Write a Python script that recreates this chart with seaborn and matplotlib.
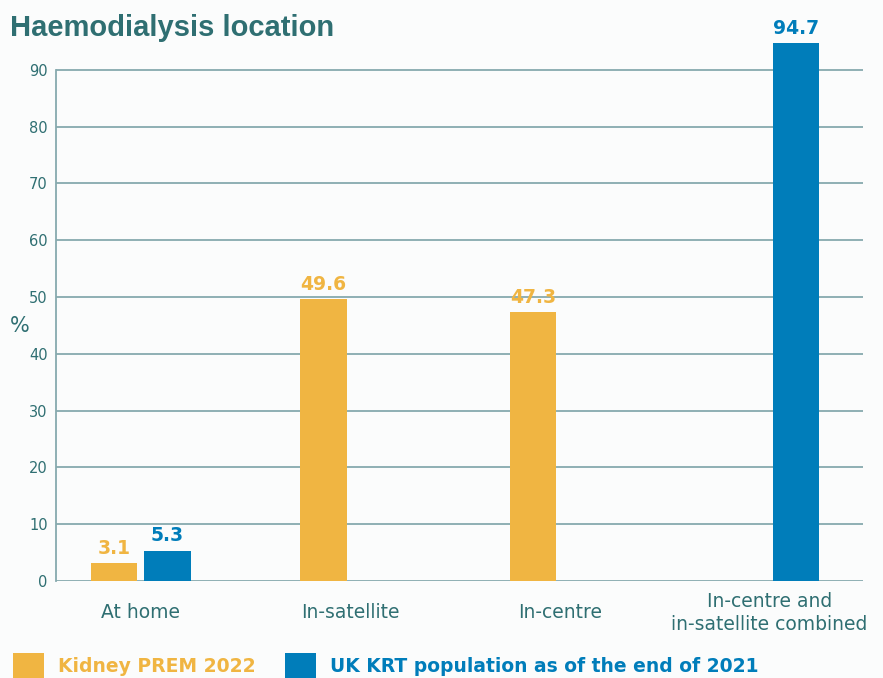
import matplotlib
matplotlib.use("Agg")
import matplotlib.pyplot as plt
import matplotlib.patches as mpatches
import seaborn as sns
import pandas as pd
import numpy as np

# Data
locations = ["At home", "In-satellite", "In-centre", "In-centre and\nin-satellite combined"]
series = ["Kidney PREM 2022", "UK KRT population as of the end of 2021"]
prem_values = [3.1, 49.6, 47.3, np.nan]
krt_values = [5.3, np.nan, np.nan, 94.7]
y_ticks = [0, 10, 20, 30, 40, 50, 60, 70, 80, 90]

ORANGE = "#F0B542"
BLUE = "#007DBA"
TEAL = "#2F6F72"
GRID = "#86AAAE"
BG = "#FBFCFC"

df = pd.DataFrame({
    "location": locations * 2,
    "source": [series[0]] * 4 + [series[1]] * 4,
    "value": prem_values + krt_values,
})

sns.set_theme(style="white")
plt.rcParams["font.family"] = ["DejaVu Sans"]

fig = plt.figure(figsize=(8.83, 6.78), dpi=100, facecolor=BG)
ax = fig.add_axes([0.0634, 0.1431, 0.9139, 0.8377])
ax.set_facecolor(BG)

sns.barplot(data=df, x="location", y="value", hue="source", order=locations,
            hue_order=series, palette=[ORANGE, BLUE], width=0.51, gap=0.13,
            dodge=True, saturation=1, legend=False, linewidth=0, ax=ax, zorder=3)

# Value labels above each bar
for container, color in zip(ax.containers, [ORANGE, BLUE]):
    labels = [f"{v:.1f}" if not np.isnan(v) else "" for v in container.datavalues]
    ax.bar_label(container, labels=labels, padding=4, color=color,
                 fontsize=13.5, fontweight="bold")

ax.set_xlim(-0.404, 3.447)
ax.set_ylim(0, 100)
ax.set_yticks(y_ticks)
ax.yaxis.grid(True, color=GRID, linewidth=1.3, zorder=0)
ax.set_axisbelow(True)
for side in ["top", "right", "bottom"]:
    ax.spines[side].set_visible(False)
ax.spines["left"].set_color(GRID)
ax.spines["left"].set_linewidth(1.3)
ax.spines["left"].set_bounds(0, 90)
ax.tick_params(axis="y", length=0, pad=6, labelcolor=TEAL, labelsize=10.5)
ax.tick_params(axis="x", length=0, pad=23, labelcolor=TEAL, labelsize=13.5)
for lbl in ax.get_xticklabels():
    lbl.set_verticalalignment("center")
    lbl.set_linespacing(1.3)
ax.set_xlabel("")
ax.set_ylabel("%", rotation=0, color=TEAL, fontsize=15, va="center", ha="center")
ax.yaxis.set_label_coords(-0.045, 0.449)

fig.text(0.011, 0.958, "Haemodialysis location", fontsize=21, fontweight="bold",
         color=TEAL, family=["Liberation Sans", "DejaVu Sans"], va="center")

handles = [mpatches.Patch(facecolor=ORANGE, linewidth=0),
           mpatches.Patch(facecolor=BLUE, linewidth=0)]
leg = fig.legend(handles, series, loc="lower left", bbox_to_anchor=(13 / 883, 0.0),
                 ncol=2, frameon=False, fontsize=13.5, handlelength=1.65,
                 handleheight=1.65, handletextpad=0.75, columnspacing=1.55,
                 borderaxespad=0, borderpad=0)
for text, color in zip(leg.get_texts(), [ORANGE, BLUE]):
    text.set_color(color)
    text.set_fontweight("bold")

fig.savefig("out.png", dpi=100, facecolor=BG)
